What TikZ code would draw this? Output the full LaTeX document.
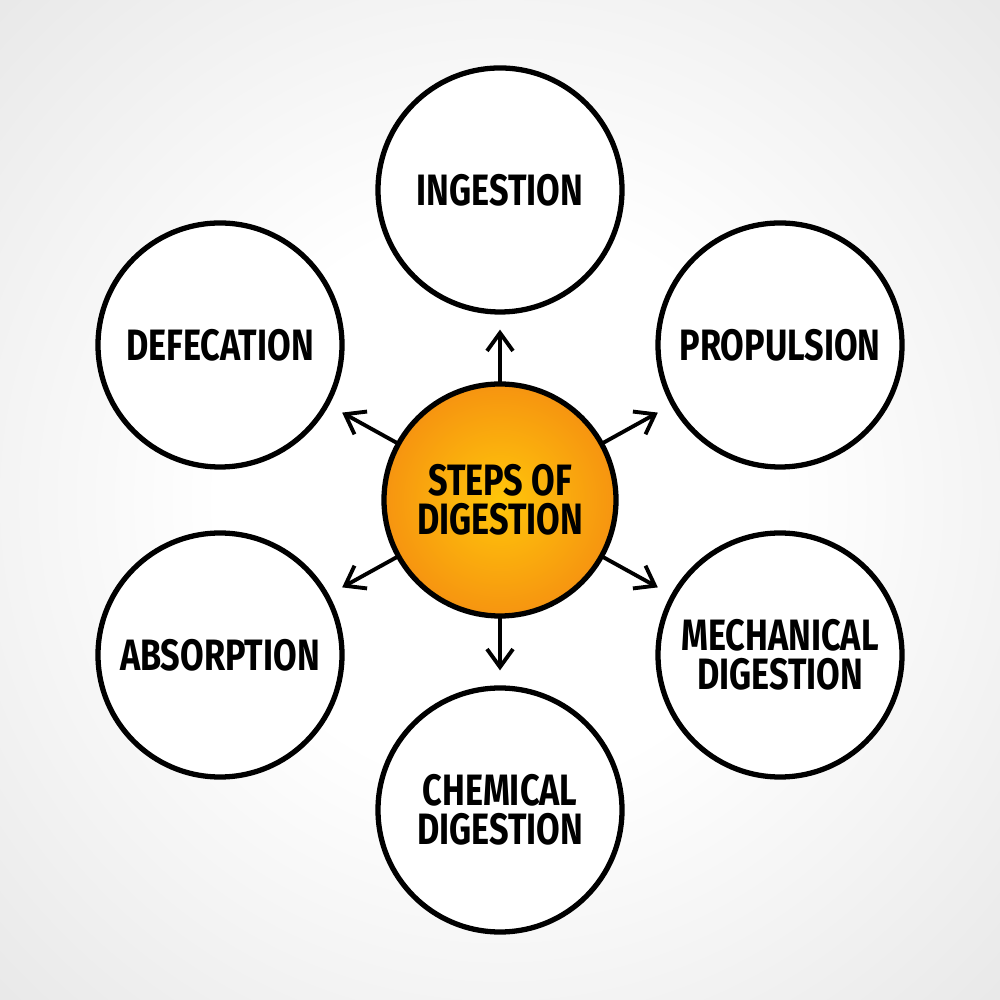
\documentclass[tikz,border=0pt]{standalone}
\usepackage{fontspec}
\usepackage{tikz}
\usetikzlibrary{positioning,arrows.meta}
\newfontfamily\markfont{Fira Sans}[FakeStretch=0.78]
\definecolor{sunin}{RGB}{255,198,10}
\definecolor{sunout}{RGB}{246,148,16}
\pgfdeclareradialshading{bgfade}{\pgfpoint{0bp}{0bp}}{color(0bp)=(white); color(14bp)=(white); color(36bp)=(black!9); color(50bp)=(black!9)}

\begin{document}
\begin{tikzpicture}[
  stage/.style={circle,draw=black,line width=1.5pt,fill=white,minimum size=2.44cm,inner sep=0pt,align=center,
    font=\markfont\bfseries\fontsize{12.5}{11}\selectfont},
  hub/.style={circle,draw=black,line width=1.5pt,shading=radial,inner color=sunin,outer color=sunout,minimum size=2.32cm,inner sep=0pt,align=center,
    font=\markfont\bfseries\fontsize{12.5}{11}\selectfont},
  arr/.style={-{Straight Barb[length=1.8mm,width=2.6mm]},line width=1.1pt,line cap=round,shorten >=0.15cm}
]
\path[shading=bgfade] (-5,-5) rectangle (5,5);
\useasboundingbox (-5,-5) rectangle (5,5);
\node[hub] (steps) at (0,0) {STEPS OF\\DIGESTION};
\node[stage] (ingest) at (0,3.1) {INGESTION};
\node[stage] (propul) at (2.8,1.55) {PROPULSION};
\node[stage] (mechdig) at (2.8,-1.55) {MECHANICAL\\DIGESTION};
\node[stage] (chemdig) at (0,-3.1) {CHEMICAL\\DIGESTION};
\node[stage] (absorb) at (-2.8,-1.55) {ABSORPTION};
\node[stage] (defec) at (-2.8,1.55) {DEFECATION};
\draw[arr] (steps) -- (ingest);
\draw[arr] (steps) -- (propul);
\draw[arr] (steps) -- (mechdig);
\draw[arr] (steps) -- (chemdig);
\draw[arr] (steps) -- (absorb);
\draw[arr] (steps) -- (defec);
\end{tikzpicture}
\end{document}
